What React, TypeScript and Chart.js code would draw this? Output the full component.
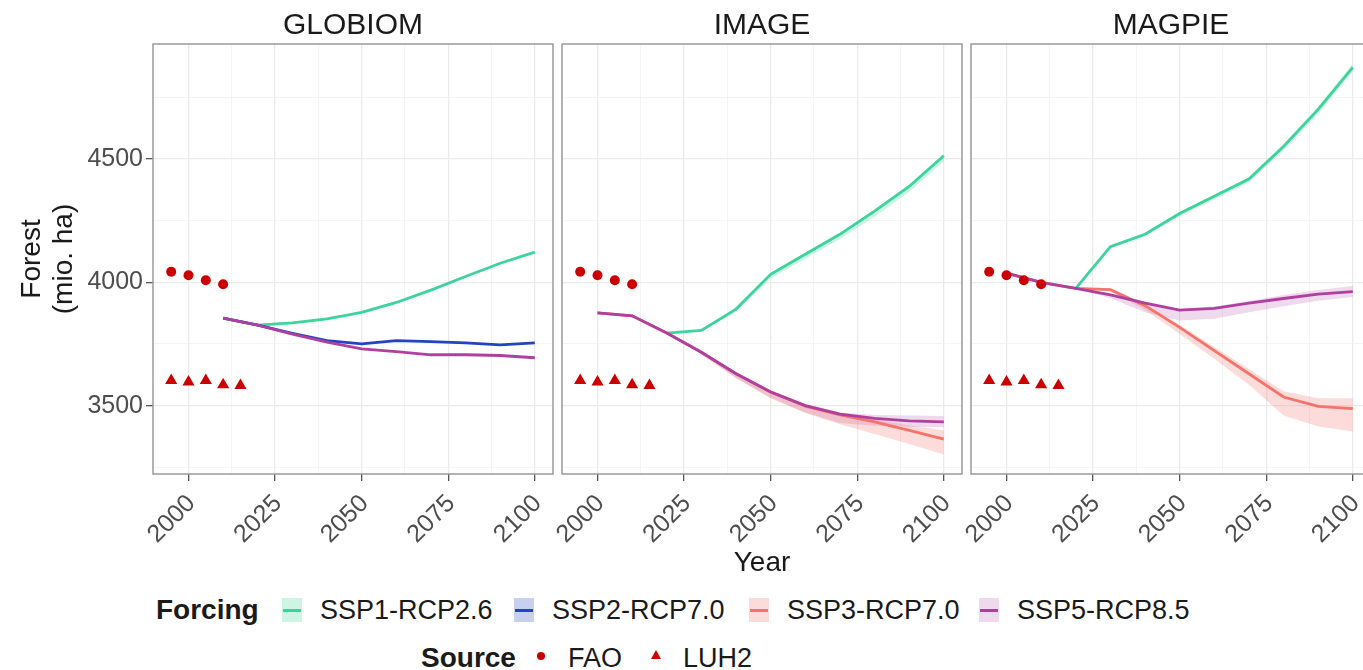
import React, { useEffect, useRef } from "react";
import { Chart, registerables } from "chart.js";

Chart.register(...registerables);

// ---------------- data ----------------
const YEARS = [2000, 2010, 2020, 2030, 2040, 2050, 2060, 2070, 2080, 2090, 2100];

const FAO_YEARS = [1995, 2000, 2005, 2010];
const FAO_VALUES = [4042, 4028, 4008, 3992];
const LUH2_YEARS = [1995, 2000, 2005, 2010, 2015];
const LUH2_VALUES = [3602, 3596, 3602, 3585, 3582];

const GLOBIOM_SSP1 = [null, 3854, 3826, 3835, 3851, 3878, 3918, 3968, 4023, 4077, 4122];
const GLOBIOM_SSP2 = [null, 3854, 3826, 3793, 3763, 3750, 3763, 3759, 3754, 3746, 3754];
const GLOBIOM_SSP5 = [null, 3854, 3826, 3790, 3757, 3730, 3719, 3706, 3706, 3703, 3694];

const IMAGE_SSP1 = [null, null, 3794, 3805, 3891, 4032, 4113, 4194, 4288, 4388, 4512];
const IMAGE_SSP1_LO = [null, null, 3794, 3800, 3880, 4015, 4095, 4175, 4265, 4365, 4490];
const IMAGE_SSP1_HI = [null, null, 3794, 3808, 3896, 4038, 4120, 4200, 4295, 4396, 4520];
const IMAGE_SSP3 = [3876, 3864, 3794, 3716, 3629, 3555, 3498, 3462, 3434, 3400, 3364];
const IMAGE_SSP3_LO = [3876, 3864, 3794, 3708, 3612, 3530, 3470, 3425, 3385, 3345, 3302];
const IMAGE_SSP3_HI = [3876, 3864, 3794, 3720, 3635, 3562, 3507, 3472, 3445, 3420, 3400];
const IMAGE_SSP5 = [3876, 3864, 3794, 3716, 3629, 3555, 3500, 3466, 3448, 3438, 3434];
const IMAGE_SSP5_LO = [3876, 3864, 3794, 3708, 3612, 3532, 3472, 3430, 3418, 3414, 3412];
const IMAGE_SSP5_HI = [3876, 3864, 3794, 3720, 3635, 3562, 3507, 3472, 3462, 3460, 3458];

const MAGPIE_SSP1 = [null, null, 3975, 4144, 4194, 4278, 4348, 4418, 4550, 4700, 4870];
const MAGPIE_SSP1_LO = [null, null, 3975, 4138, 4186, 4268, 4336, 4405, 4535, 4683, 4855];
const MAGPIE_SSP1_HI = [null, null, 3975, 4150, 4200, 4285, 4355, 4425, 4560, 4712, 4886];
const MAGPIE_SSP3 = [4037, 3999, 3975, 3970, 3905, 3817, 3723, 3629, 3535, 3497, 3488];
const MAGPIE_SSP3_LO = [4037, 3999, 3975, 3962, 3888, 3790, 3690, 3585, 3460, 3415, 3395];
const MAGPIE_SSP3_HI = [4037, 3999, 3975, 3976, 3912, 3828, 3738, 3648, 3558, 3530, 3530];
const MAGPIE_SSP5 = [4037, 3999, 3975, 3949, 3915, 3887, 3894, 3915, 3934, 3952, 3962];
const MAGPIE_SSP5_LO = [4037, 3999, 3975, 3935, 3878, 3845, 3852, 3878, 3903, 3925, 3940];
const MAGPIE_SSP5_HI = [4037, 3999, 3975, 3955, 3922, 3892, 3902, 3924, 3948, 3968, 3985];

const X_MAJOR = [2000, 2025, 2050, 2075, 2100];
const X_MINOR = [2012.5, 2037.5, 2062.5, 2087.5];
const Y_MAJOR = [3500, 4000, 4500];
const Y_MINOR = [3250, 3750, 4250, 4750];
const X_MIN = 1989.75;
const X_MAX = 2105.25;
const Y_MIN = 3223;
const Y_MAX = 4965;

const MODELS = ["GLOBIOM", "IMAGE", "MAGPIE"];
const SCENARIOS = ["SSP1-RCP2.6", "SSP2-RCP7.0", "SSP3-RCP7.0", "SSP5-RCP8.5"];
const SOURCES = ["FAO", "LUH2"];

type Series = { scen: string; values: (number | null)[]; lo?: (number | null)[]; hi?: (number | null)[] };

const MODEL_SERIES: Record<string, Series[]> = {
  GLOBIOM: [
    { scen: "SSP1-RCP2.6", values: GLOBIOM_SSP1 },
    { scen: "SSP2-RCP7.0", values: GLOBIOM_SSP2 },
    { scen: "SSP5-RCP8.5", values: GLOBIOM_SSP5 },
  ],
  IMAGE: [
    { scen: "SSP1-RCP2.6", values: IMAGE_SSP1, lo: IMAGE_SSP1_LO, hi: IMAGE_SSP1_HI },
    { scen: "SSP3-RCP7.0", values: IMAGE_SSP3, lo: IMAGE_SSP3_LO, hi: IMAGE_SSP3_HI },
    { scen: "SSP5-RCP8.5", values: IMAGE_SSP5, lo: IMAGE_SSP5_LO, hi: IMAGE_SSP5_HI },
  ],
  MAGPIE: [
    { scen: "SSP1-RCP2.6", values: MAGPIE_SSP1, lo: MAGPIE_SSP1_LO, hi: MAGPIE_SSP1_HI },
    { scen: "SSP3-RCP7.0", values: MAGPIE_SSP3, lo: MAGPIE_SSP3_LO, hi: MAGPIE_SSP3_HI },
    { scen: "SSP5-RCP8.5", values: MAGPIE_SSP5, lo: MAGPIE_SSP5_LO, hi: MAGPIE_SSP5_HI },
  ],
};

// ---------------- styles ----------------
const FONT = "'Liberation Sans', Arial, Helvetica, sans-serif";
const LINE_COLOR: Record<string, string> = {
  "SSP1-RCP2.6": "#3CD49C",
  "SSP2-RCP7.0": "#2343C2",
  "SSP3-RCP7.0": "#F5736A",
  "SSP5-RCP8.5": "#B0409F",
};
const FILL_COLOR: Record<string, string> = {
  "SSP1-RCP2.6": "rgba(60,212,156,0.25)",
  "SSP2-RCP7.0": "rgba(35,67,194,0.25)",
  "SSP3-RCP7.0": "rgba(245,115,106,0.25)",
  "SSP5-RCP8.5": "rgba(176,64,159,0.2)",
};
const LINE_ORDER: Record<string, number> = {
  "SSP1-RCP2.6": 5,
  "SSP2-RCP7.0": 4,
  "SSP3-RCP7.0": 3,
  "SSP5-RCP8.5": 2,
};
const POINT_COLOR = "#CC0000";

const PANEL_TOP = 44;
const PANEL_BOTTOM = 474;
const CANVAS_H = 550;
const PANELS = [
  { left: 0, width: 560, padL: 0, padR: 7, showY: true },
  { left: 552, width: 420, padL: 10, padR: 10, showY: false },
  { left: 961, width: 420, padL: 10, padR: 10, showY: false },
];

const panelBorder = {
  id: "panelBorder",
  afterDraw(chart: any) {
    const { ctx, chartArea } = chart;
    ctx.save();
    ctx.strokeStyle = "#9A9A9A";
    ctx.lineWidth = 1.5;
    ctx.strokeRect(chartArea.left, chartArea.top, chartArea.right - chartArea.left, chartArea.bottom - chartArea.top);
    ctx.restore();
  },
};

const toXY = (xs: number[], ys: (number | null)[]) => xs.map((x, i) => ({ x, y: ys[i] }));

function Panel({ model, idx }: { model: string; idx: number }) {
  const ref = useRef<HTMLCanvasElement>(null);
  const p = PANELS[idx];
  useEffect(() => {
    const canvas = ref.current;
    if (!canvas) return;
    const series = MODEL_SERIES[model];
    const datasets: any[] = [];
    series.forEach((s) => {
      if (s.lo && s.hi) {
        datasets.push({
          label: s.scen + " upper",
          data: toXY(YEARS, s.hi),
          borderWidth: 0,
          borderColor: "transparent",
          pointRadius: 0,
          fill: false,
          order: 20,
        });
        datasets.push({
          label: s.scen + " lower",
          data: toXY(YEARS, s.lo),
          borderWidth: 0,
          borderColor: "transparent",
          backgroundColor: FILL_COLOR[s.scen],
          pointRadius: 0,
          fill: "-1",
          order: 20,
        });
      }
    });
    series.forEach((s) => {
      datasets.push({
        label: s.scen,
        data: toXY(YEARS, s.values),
        borderColor: LINE_COLOR[s.scen],
        borderWidth: 2.8,
        pointRadius: 0,
        fill: false,
        tension: 0,
        order: LINE_ORDER[s.scen],
      });
    });
    datasets.push({
      label: "FAO",
      data: toXY(FAO_YEARS, FAO_VALUES),
      showLine: false,
      pointStyle: "circle",
      pointRadius: 5,
      backgroundColor: POINT_COLOR,
      borderColor: POINT_COLOR,
      borderWidth: 0,
      order: 0,
    });
    datasets.push({
      label: "LUH2",
      data: toXY(LUH2_YEARS, LUH2_VALUES),
      showLine: false,
      pointStyle: "triangle",
      pointRadius: 7,
      backgroundColor: POINT_COLOR,
      borderColor: POINT_COLOR,
      borderWidth: 0,
      order: 0,
    });

    const gridColor = (ctx: any, major: number[]) =>
      ctx.tick && major.includes(ctx.tick.value) ? "#EBEBEB" : "#F3F3F3";
    const gridWidth = (ctx: any, major: number[]) =>
      ctx.tick && major.includes(ctx.tick.value) ? 1.3 : 0.8;
    const tickColor = (ctx: any, major: number[]) =>
      ctx.tick && major.includes(ctx.tick.value) ? "#555555" : "rgba(0,0,0,0)";

    const chart = new Chart(canvas, {
      type: "line",
      data: { datasets },
      options: {
        responsive: false,
        animation: false,
        maintainAspectRatio: false,
        layout: { padding: { left: p.padL, right: p.padR, top: PANEL_TOP, bottom: 0 } },
        plugins: { legend: { display: false }, tooltip: { enabled: false } },
        scales: {
          x: {
            type: "linear",
            min: X_MIN,
            max: X_MAX,
            afterBuildTicks: (s: any) => {
              s.ticks = [...X_MAJOR, ...X_MINOR].sort((a, b) => a - b).map((v) => ({ value: v }));
            },
            afterFit: (s: any) => {
              s.height = CANVAS_H - PANEL_BOTTOM;
              s.paddingLeft = 0;
              s.paddingRight = 0;
            },
            ticks: {
              autoSkip: false,
              minRotation: 45,
              maxRotation: 45,
              padding: 8,
              labelOffset: 3,
              color: "#4D4D4D",
              font: { family: FONT, size: 25 },
              callback: (v: any) => (X_MAJOR.includes(Number(v)) ? String(v) : ""),
            },
            grid: {
              color: (c: any) => gridColor(c, X_MAJOR),
              lineWidth: (c: any) => gridWidth(c, X_MAJOR),
              tickColor: (c: any) => tickColor(c, X_MAJOR),
              tickLength: 7,
              tickWidth: 1.3,
              drawTicks: true,
            },
            border: { display: false },
          },
          y: {
            type: "linear",
            min: Y_MIN,
            max: Y_MAX,
            afterBuildTicks: (s: any) => {
              s.ticks = [...Y_MAJOR, ...Y_MINOR].sort((a, b) => a - b).map((v) => ({ value: v }));
            },
            afterFit: (s: any) => {
              s.width = p.showY ? 153 : 0;
              s.paddingTop = 0;
              s.paddingBottom = 0;
            },
            ticks: {
              display: p.showY,
              padding: 3,
              color: "#4D4D4D",
              font: { family: FONT, size: 25 },
              callback: (v: any) => (Y_MAJOR.includes(Number(v)) ? String(v) : ""),
            },
            grid: {
              color: (c: any) => gridColor(c, Y_MAJOR),
              lineWidth: (c: any) => gridWidth(c, Y_MAJOR),
              tickColor: (c: any) => tickColor(c, Y_MAJOR),
              tickLength: 7,
              tickWidth: 1.3,
              drawTicks: p.showY,
            },
            border: { display: false },
          },
        },
      } as any,
      plugins: [panelBorder],
    });
    return () => chart.destroy();
  }, [model, idx]);

  return (
    <canvas
      ref={ref}
      width={p.width}
      height={CANVAS_H}
      style={{ position: "absolute", left: p.left, top: 0, width: p.width, height: CANVAS_H }}
    />
  );
}

const textStyle = (size: number, bold = false): React.CSSProperties => ({
  position: "absolute",
  fontFamily: FONT,
  fontSize: size,
  lineHeight: `${size}px`,
  fontWeight: bold ? 700 : 400,
  color: "#1A1A1A",
  whiteSpace: "nowrap",
});

const STRIP_CENTERS = [353, 762, 1171];
const LEGEND_TEXT_X = [320, 552, 787, 1017];

export default function App() {
  return (
    <div
      style={{
        position: "absolute",
        left: 0,
        top: 0,
        width: 1363,
        height: 670,
        overflow: "hidden",
        background: "#FFFFFF",
      }}
    >
      {MODELS.map((m, i) => (
        <Panel key={m} model={m} idx={i} />
      ))}
      {MODELS.map((m, i) => (
        <div
          key={"t" + m}
          style={{ ...textStyle(30), left: STRIP_CENTERS[i] - 150, width: 300, textAlign: "center", top: 9 }}
        >
          {m}
        </div>
      ))}
      {/* y axis title */}
      <div
        style={{
          position: "absolute",
          left: 47 - 100,
          top: 259 - 32,
          width: 200,
          height: 64,
          transform: "rotate(-90deg)",
          transformOrigin: "50% 50%",
          fontFamily: FONT,
          fontSize: 28,
          lineHeight: "32px",
          color: "#1A1A1A",
          textAlign: "center",
        }}
      >
        <div>Forest</div>
        <div>(mio. ha)</div>
      </div>
      {/* x axis title */}
      <div style={{ ...textStyle(28), left: 762 - 100, width: 200, textAlign: "center", top: 548 }}>Year</div>

      {/* legend row 1 */}
      <div style={{ ...textStyle(28, true), left: 156, top: 596 }}>Forcing</div>
      {SCENARIOS.map((s, i) => (
        <React.Fragment key={s}>
          <div
            style={{
              position: "absolute",
              left: LEGEND_TEXT_X[i] - 38,
              top: 598,
              width: 20,
              height: 24,
              background: FILL_COLOR[s],
            }}
          >
            <div
              style={{
                position: "absolute",
                left: 1,
                right: 1,
                top: 10.5,
                height: 3,
                background: LINE_COLOR[s],
              }}
            />
          </div>
          <div style={{ ...textStyle(27), left: LEGEND_TEXT_X[i], top: 597 }}>{s}</div>
        </React.Fragment>
      ))}

      {/* legend row 2 */}
      <div style={{ ...textStyle(28, true), left: 421, top: 644 }}>Source</div>
      <div
        style={{
          position: "absolute",
          left: 541 - 4,
          top: 656 - 4,
          width: 8,
          height: 8,
          borderRadius: 4,
          background: POINT_COLOR,
        }}
        title={SOURCES[0]}
      />
      <div style={{ ...textStyle(27), left: 568, top: 645 }}>{SOURCES[0]}</div>
      <div
        style={{
          position: "absolute",
          left: 656 - 5,
          top: 650,
          width: 0,
          height: 0,
          borderLeft: "5px solid transparent",
          borderRight: "5px solid transparent",
          borderBottom: `9px solid ${POINT_COLOR}`,
        }}
        title={SOURCES[1]}
      />
      <div style={{ ...textStyle(27), left: 683, top: 645 }}>{SOURCES[1]}</div>
    </div>
  );
}
